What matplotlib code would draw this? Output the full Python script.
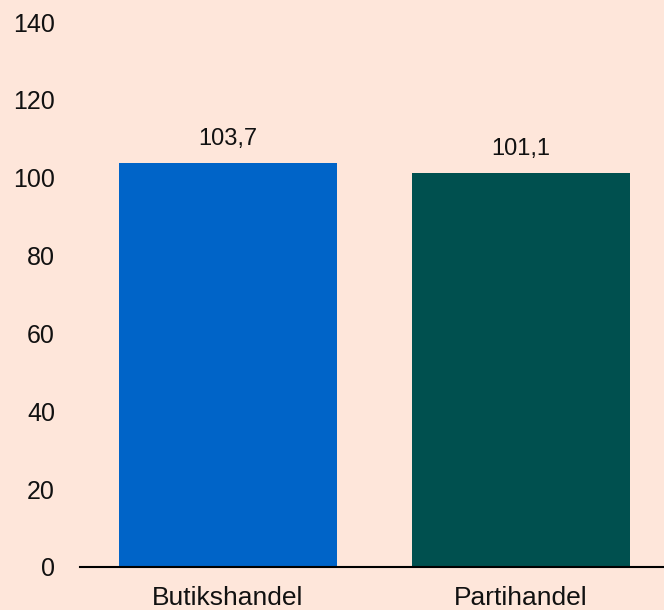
import matplotlib
matplotlib.use("Agg")
import matplotlib.pyplot as plt

categories = ["Butikshandel", "Partihandel"]
values = [103.7, 101.1]
labels = ["103,7", "101,1"]
colors = ["#0064C8", "#00504F"]
yticks = [0, 20, 40, 60, 80, 100, 120, 140]

bg = "#FEE6DA"
plt.rcParams['font.family'] = ['Liberation Sans', 'DejaVu Sans']

fig = plt.figure(figsize=(6.64, 6.10), dpi=100, facecolor=bg)
ax = fig.add_axes([80 / 664, 43 / 610, 584 / 664, 545 / 610])
ax.set_facecolor(bg)

x = list(range(len(categories)))
bars = ax.bar(x, values, width=0.745, color=colors)
for b, lab in zip(bars, labels):
    ax.annotate(lab, (b.get_x() + b.get_width() / 2, b.get_height()),
                xytext=(0, 17.5), textcoords="offset points",
                ha="center", va="center", fontsize=17, color="#111111")

ax.set_xlim(-0.505, 1.49)
ax.set_ylim(0, 140)
ax.set_yticks(yticks)
ax.set_xticks(x)
ax.set_xticklabels(categories)
ax.tick_params(axis="y", length=0, pad=18, labelsize=18, labelcolor="#111111")
ax.tick_params(axis="x", length=0, pad=14, labelsize=19, labelcolor="#111111")

for s in ["top", "right", "left"]:
    ax.spines[s].set_visible(False)
ax.spines["bottom"].set_linewidth(1.5)
ax.spines["bottom"].set_color("black")

plt.savefig("out.png", facecolor=bg)
plt.close(fig)
